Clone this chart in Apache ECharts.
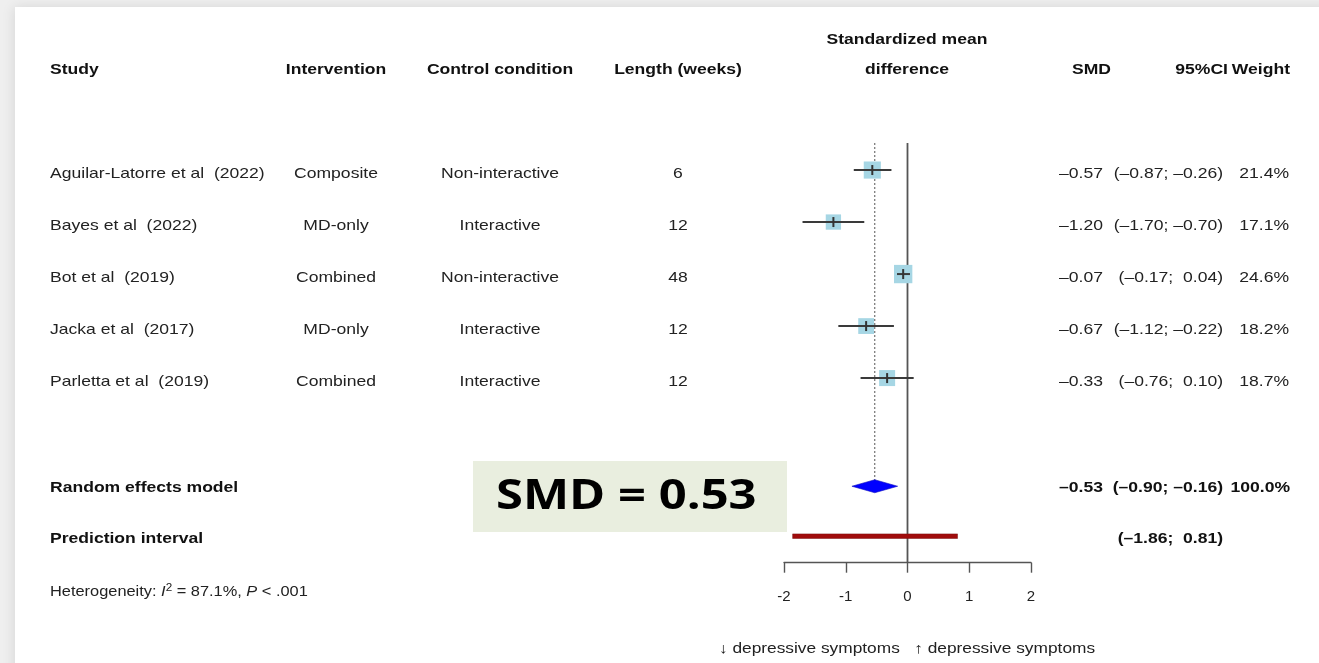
<!DOCTYPE html>
<html>
<head>
<meta charset="utf-8">
<script src="https://cdn.jsdelivr.net/npm/echarts@6/dist/echarts.min.js"></script>
<style>
  html, body { margin: 0; padding: 0; background: #efefef; }
  #chart { width: 1319px; height: 663px; }
</style>
</head>
<body>
<div id="chart"></div>
<script>
// Forest plot: effect of dietary interventions on depressive symptoms
const studies = [
  'Aguilar-Latorre et al  (2022)',
  'Bayes et al  (2022)',
  'Bot et al  (2019)',
  'Jacka et al  (2017)',
  'Parletta et al  (2019)'
];
const interventions = ['Composite', 'MD-only', 'Combined', 'MD-only', 'Combined'];
const controls = ['Non-interactive', 'Interactive', 'Non-interactive', 'Interactive', 'Interactive'];
const lengths = ['6', '12', '48', '12', '12'];
const smd = [-0.57, -1.20, -0.07, -0.67, -0.33];
const ciLow = [-0.87, -1.70, -0.17, -1.12, -0.76];
const ciHigh = [-0.26, -0.70, 0.04, -0.22, 0.10];
const weights = [21.4, 17.1, 24.6, 18.2, 18.7];

const pooled = { est: -0.53, lo: -0.90, hi: -0.16, weight: 100.0 };
const predInterval = { lo: -1.86, hi: 0.81 };
const heterogeneity = { i2: 87.1, p: '< .001' };
const xTicks = [-2, -1, 0, 1, 2];

// row slots on the vertical scale
const studyRows = [0, 1, 2, 3, 4];
const pooledRow = 6.08;
const predRow = 7.04;

// text is set slightly wide
const SX = 1.17;

const fmt = v => (v < 0 ? '\u2013' : '') + Math.abs(v).toFixed(2);
const fmtCI = (lo, hi) => '(' + fmt(lo) + ';' + (hi < 0 ? ' ' : '  ') + fmt(hi) + ')';

const chart = echarts.init(document.getElementById('chart'));

const studyData = smd.map((v, i) => [v, studyRows[i], ciLow[i], ciHigh[i], weights[i]]);

const option = {
  backgroundColor: '#efefef',
  animation: false,
  grid: { left: 784, right: 288, top: 143, bottom: 100.3, containLabel: false },
  xAxis: {
    type: 'value', min: xTicks[0], max: xTicks[xTicks.length - 1], interval: 1,
    axisLine: { show: true, onZero: false, lineStyle: { color: '#555', width: 1.4 } },
    axisTick: { show: true, length: 10, lineStyle: { color: '#555', width: 1.4 } },
    axisLabel: {
      margin: 27, color: '#222', fontSize: 15, fontFamily: 'Liberation Sans',
      formatter: v => String(v)
    },
    splitLine: { show: false }
  },
  yAxis: {
    type: 'value', min: -0.52, max: 7.55, inverse: true, show: false
  },
  series: [
    // line of no effect
    {
      type: 'line', data: [[0, -0.52], [0, 7.55]], symbol: 'none', silent: true,
      lineStyle: { color: '#555', width: 1.8 }, z: 2
    },
    // pooled estimate reference
    {
      type: 'line', data: [[pooled.est, -0.52], [pooled.est, pooledRow - 0.12]], symbol: 'none', silent: true,
      lineStyle: { color: '#555', width: 1, type: [2, 2] }, z: 2
    },
    // study estimates with confidence intervals
    {
      type: 'custom', z: 5,
      data: studyData,
      encode: { x: 0, y: 1 },
      renderItem: function (params, api) {
        const c = api.coord([api.value(0), api.value(1)]);
        const l = api.coord([api.value(2), api.value(1)]);
        const h = api.coord([api.value(3), api.value(1)]);
        const s = 3.7 * Math.sqrt(api.value(4));
        return {
          type: 'group',
          children: [
            { type: 'rect', shape: { x: c[0] - s / 2, y: c[1] - s / 2, width: s, height: s },
              style: { fill: '#a6d6e4' } },
            { type: 'line', shape: { x1: l[0], y1: c[1], x2: h[0], y2: c[1] },
              style: { stroke: '#3a3a3a', lineWidth: 2 } },
            { type: 'line', shape: { x1: c[0], y1: c[1] - 5, x2: c[0], y2: c[1] + 5 },
              style: { stroke: '#333', lineWidth: 2 } }
          ]
        };
      }
    },
    // pooled diamond
    {
      type: 'custom', z: 6,
      data: [[pooled.est, pooledRow, pooled.lo, pooled.hi]],
      encode: { x: 0, y: 1 },
      renderItem: function (params, api) {
        const c = api.coord([api.value(0), api.value(1)]);
        const l = api.coord([api.value(2), api.value(1)]);
        const h = api.coord([api.value(3), api.value(1)]);
        return {
          type: 'polygon',
          shape: { points: [[l[0], c[1]], [c[0], c[1] - 6.5], [h[0], c[1]], [c[0], c[1] + 6.5]] },
          style: { fill: '#0000ff', stroke: '#1010c0', lineWidth: 0.6 }
        };
      }
    },
    // prediction interval
    {
      type: 'custom', z: 6,
      data: [[predInterval.lo, predRow, predInterval.hi]],
      encode: { x: [0, 2], y: 1 },
      renderItem: function (params, api) {
        const l = api.coord([api.value(0), api.value(1)]);
        const h = api.coord([api.value(2), api.value(1)]);
        return {
          type: 'rect',
          shape: { x: l[0], y: l[1] - 2.3, width: h[0] - l[0], height: 4.6 },
          style: { fill: '#a00c0c', stroke: '#7a1010', lineWidth: 0.5 }
        };
      }
    }
  ]
};

chart.setOption(option);

// table text placed on the same row scale as the plot
const rowY = r => chart.convertToPixel({ gridIndex: 0 }, [0, r])[1];
const base = { fontFamily: 'Liberation Sans', fontSize: 15, fill: '#222', verticalAlign: 'middle' };
const txt = (x, y, text, align, extra) => ({
  type: 'text', x: x, y: y, z: 50, scaleX: SX,
  style: Object.assign({}, base, { text: text, align: align || 'left' }, extra || {})
});
const bold = { fontWeight: 'bold', fill: '#111' };

const g = [];
// card
g.push({ type: 'rect', z: 0, shape: { x: 15, y: 7, width: 1320, height: 680 },
  style: { fill: '#ffffff', shadowBlur: 12, shadowColor: 'rgba(0,0,0,0.10)', shadowOffsetX: -1 } });

// headers
g.push(txt(50, 70, 'Study', 'left', bold));
g.push(txt(336, 70, 'Intervention', 'center', bold));
g.push(txt(500, 70, 'Control condition', 'center', bold));
g.push(txt(678, 70, 'Length (weeks)', 'center', bold));
g.push(txt(907, 40, 'Standardized mean', 'center', bold));
g.push(txt(907, 70, 'difference', 'center', bold));
g.push(txt(1111, 70, 'SMD', 'right', bold));
g.push(txt(1228, 70, '95%CI', 'right', bold));
g.push(txt(1290, 70, 'Weight', 'right', bold));

// study rows
studies.forEach((name, i) => {
  const y = rowY(studyRows[i]) + 4;
  g.push(txt(50, y, name, 'left'));
  g.push(txt(336, y, interventions[i], 'center'));
  g.push(txt(500, y, controls[i], 'center'));
  g.push(txt(678, y, lengths[i], 'center'));
  g.push(txt(1103, y, fmt(smd[i]), 'right'));
  g.push(txt(1223, y, fmtCI(ciLow[i], ciHigh[i]), 'right'));
  g.push(txt(1289, y, weights[i].toFixed(1) + '%', 'right'));
});

// pooled rows
const yp = rowY(pooledRow) + 2;
g.push(txt(50, yp, 'Random effects model', 'left', bold));
g.push(txt(1103, yp, fmt(pooled.est), 'right', bold));
g.push(txt(1223, yp, fmtCI(pooled.lo, pooled.hi), 'right', bold));
g.push(txt(1290, yp, pooled.weight.toFixed(1) + '%', 'right', bold));
const yq = rowY(predRow) + 3;
g.push(txt(50, yq, 'Prediction interval', 'left', bold));
g.push(txt(1223, yq, fmtCI(predInterval.lo, predInterval.hi), 'right', bold));

// heterogeneity
g.push({
  type: 'text', x: 50, y: 592, z: 50, scaleX: SX,
  style: {
    text: 'Heterogeneity: {i|I}{sup|2} = ' + heterogeneity.i2.toFixed(1) + '%, {i|P} ' + heterogeneity.p,
    fontFamily: 'Liberation Sans', fontSize: 14, fill: '#222', verticalAlign: 'middle',
    rich: {
      i: { fontStyle: 'italic', fontFamily: 'Liberation Sans', fontSize: 14, fill: '#222' },
      sup: { fontFamily: 'Liberation Sans', fontSize: 10, fill: '#222', verticalAlign: 'top', padding: [0, 0, 8, 0] }
    }
  }
});

// direction label
g.push(txt(907, 649, '\u2193 depressive symptoms   \u2191 depressive symptoms', 'center', { fontSize: 14.8 }));

// highlighted summary
g.push({ type: 'rect', z: 40, shape: { x: 473, y: 461, width: 314, height: 71 }, style: { fill: '#e9eedf' } });
g.push({
  type: 'text', x: 496, y: 497, z: 41, scaleX: 1.165,
  style: { text: 'SMD = ' + Math.abs(pooled.est).toFixed(2), fontFamily: 'Open Sans', fontWeight: 'bold',
    fontSize: 42, fill: '#000', align: 'left', verticalAlign: 'middle' }
});

chart.setOption({ graphic: g });
</script>
</body>
</html>
